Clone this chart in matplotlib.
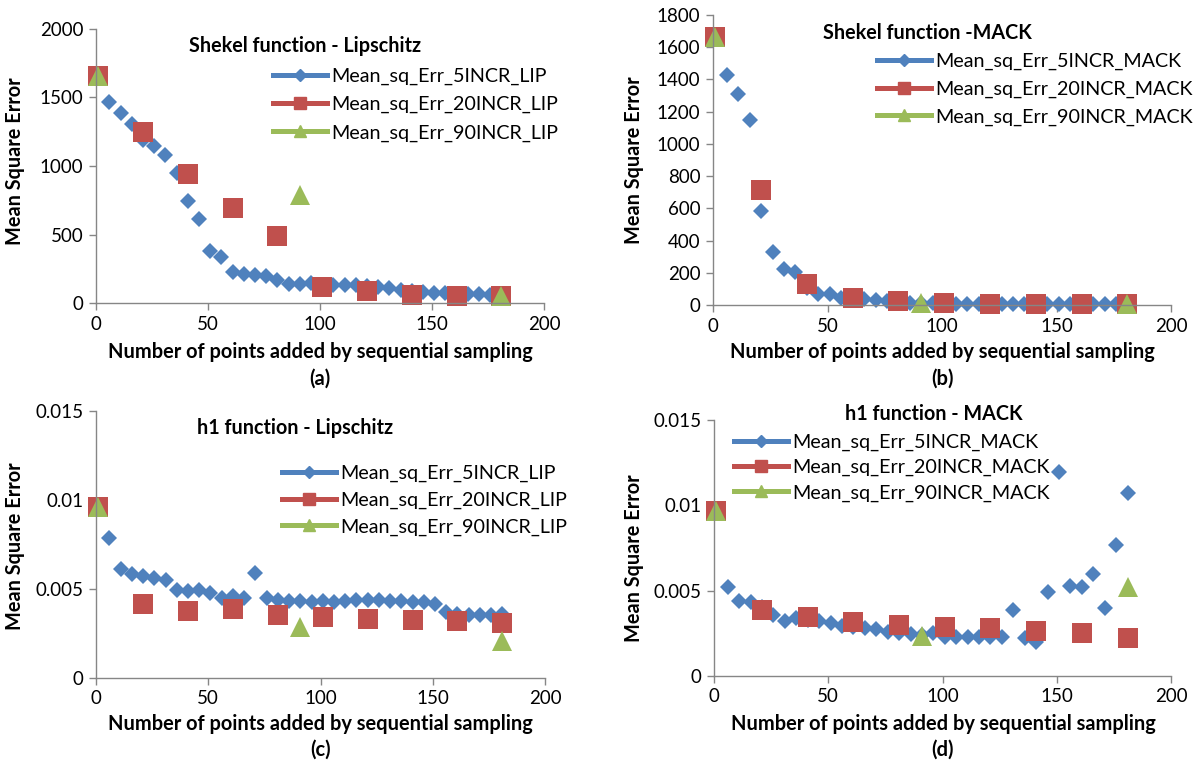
import matplotlib
matplotlib.use('Agg')
import matplotlib.pyplot as plt
from matplotlib.lines import Line2D

plt.rcParams['font.family'] = ['Lato', 'DejaVu Sans']

W, H = 1199, 760

BLUE = '#4F81BD'
RED = '#C0504D'
GREEN = '#9BBB59'
AXC = '#868686'

# x positions of the three sampling schedules
x5 = [1, 6, 11, 16, 21, 26, 31, 36, 41, 46, 51, 56, 61, 66, 71, 76, 81, 86, 91,
      96, 101, 106, 111, 116, 121, 126, 131, 136, 141, 146, 151, 156, 161, 166,
      171, 176, 181]
x20 = [1, 21, 41, 61, 81, 101, 121, 141, 161, 181]
x90 = [1, 91, 181]

# (a) Shekel - Lipschitz
a5 = [1650, 1465, 1387, 1309, 1190, 1143, 1083, 949, 742, 616, 377, 333, 224,
      214, 207, 195, 170, 141, 141, 146, 134, 134, 134, 128, 122, 117, 110, 97,
      85, 78, 73, 73, 68, 68, 63, 58, 54]
a20 = [1655, 1245, 944, 693, 487, 117, 85, 61, 54, 49]
a90 = [1655, 785, 54]

# (b) Shekel - MACK
b5 = [1660, 1425, 1312, 1151, 585, 327, 224, 204, 107, 66, 66, 45, 45, 35, 31,
      25, 22, 14, 12, 10, 9, 8, 8, 7, 7, 6, 6, 6, 5, 5, 5, 5, 4, 4, 4, 4, 4]
b20 = [1662, 715, 128, 45, 25, 10, 8, 6, 5, 4]
b90 = [1662, 12, 4]

# (c) h1 - Lipschitz
c5 = [0.0096, 0.00788, 0.00615, 0.00583, 0.00572, 0.00563, 0.00553, 0.00493,
      0.0049, 0.00497, 0.00475, 0.00452, 0.0046, 0.00447, 0.00591, 0.00452,
      0.00441, 0.00433, 0.00433, 0.00428, 0.00433, 0.00428, 0.00433, 0.00437,
      0.00437, 0.00437, 0.00433, 0.00433, 0.00428, 0.00428, 0.00415, 0.00371,
      0.00358, 0.00353, 0.00353, 0.00353, 0.00362]
c20 = [0.00962, 0.00418, 0.00375, 0.00386, 0.00356, 0.0034, 0.0033, 0.00325,
       0.0032, 0.00311]
c90 = [0.00962, 0.00287, 0.00206]

# (d) h1 - MACK
d5 = [0.0097, 0.0052, 0.00441, 0.00436, 0.00406, 0.00357, 0.00324, 0.00338,
      0.00328, 0.00324, 0.00312, 0.00293, 0.00289, 0.00279, 0.00273, 0.0026,
      0.00254, 0.00246, 0.0024, 0.0025, 0.0023, 0.0023, 0.00227, 0.00227,
      0.00227, 0.00227, 0.00387, 0.00221, 0.00201, 0.0049, 0.01197, 0.00527,
      0.0052, 0.00598, 0.00396, 0.00768, 0.01074]
d20 = [0.00969, 0.00387, 0.00344, 0.00318, 0.00299, 0.00285, 0.00279, 0.00266,
       0.0025, 0.00221]
d90 = [0.00969, 0.00234, 0.00523]

panels = [
    dict(rect=(96, 29, 544, 303), y5=a5, y20=a20, y90=a90, ymax=2000, ystep=500,
         title='Shekel function - Lipschitz', tpos=(305, 46), suffix='LIP',
         leg=(273, 76, 28), ylab=(15, 161), xlab=(320, 352), tag='(a)', tagpos=(320, 379)),
    dict(rect=(713, 15, 1171, 305), y5=b5, y20=b20, y90=b90, ymax=1800, ystep=200,
         title='Shekel function -MACK', tpos=(927, 33), suffix='MACK',
         leg=(877, 61, 27.5), ylab=(634, 160), xlab=(942, 352), tag='(b)', tagpos=(942, 379)),
    dict(rect=(96, 411, 545, 678), y5=c5, y20=c20, y90=c90, ymax=0.015, ystep=0.005,
         title='h1 function - Lipschitz', tpos=(295, 428), suffix='LIP',
         leg=(282, 473, 26.5), ylab=(15, 546), xlab=(320, 724), tag='(c)', tagpos=(321, 750)),
    dict(rect=(714, 420, 1171, 676), y5=d5, y20=d20, y90=d90, ymax=0.015, ystep=0.005,
         title='h1 function - MACK', tpos=(934, 414), suffix='MACK',
         leg=(734, 442, 25), ylab=(634, 558), xlab=(943, 724), tag='(d)', tagpos=(943, 750)),
]

fig = plt.figure(figsize=(W / 100, H / 100), dpi=100)

for p in panels:
    x0, y0, x1, y1 = p['rect']
    ax = fig.add_axes([x0 / W, 1 - y1 / H, (x1 - x0) / W, (y1 - y0) / H])
    ax.patch.set_alpha(0)
    for s in ['top', 'right']:
        ax.spines[s].set_visible(False)
    for s in ['left', 'bottom']:
        ax.spines[s].set_color(AXC)
        ax.spines[s].set_linewidth(1.0)
    ax.set_xlim(0, 200)
    ax.set_ylim(0, p['ymax'])
    ax.set_xticks([0, 50, 100, 150, 200])
    n = int(round(p['ymax'] / p['ystep']))
    yt = [round(i * p['ystep'], 6) for i in range(n + 1)]
    ax.set_yticks(yt)
    ax.set_yticklabels([f'{v:g}' for v in yt])
    ax.tick_params(direction='out', length=5, width=1, color=AXC,
                   labelsize=13.5, labelcolor='black', pad=4)

    ax.plot(x5, p['y5'], ls='none', marker='D', ms=8.3, color=BLUE, mew=0, clip_on=False)
    ax.plot(x20, p['y20'], ls='none', marker='s', ms=14, color=RED, mew=0, clip_on=False)
    ax.plot(x90, p['y90'], ls='none', marker='^', ms=14, color=GREEN, mew=0, clip_on=False)

    ax.set_ylabel('Mean Square Error', fontsize=14.3, fontweight='bold')
    ax.yaxis.set_label_coords(p['ylab'][0] / W, 1 - p['ylab'][1] / H, transform=fig.transFigure)
    ax.set_xlabel('Number of points added by sequential sampling', fontsize=14.4, fontweight='bold')
    ax.xaxis.set_label_coords(p['xlab'][0] / W, 1 - p['xlab'][1] / H, transform=fig.transFigure)
    ax.xaxis.label.set_va('center')
    ax.yaxis.label.set_va('center')

    fig.text(p['tpos'][0] / W, 1 - p['tpos'][1] / H, p['title'], fontsize=14.2,
             fontweight='bold', ha='center', va='center')
    fig.text(p['tagpos'][0] / W, 1 - p['tagpos'][1] / H, p['tag'], fontsize=14.5,
             fontweight='bold', ha='center', va='center')

    sfx = p['suffix']
    handles = [
        Line2D([], [], color=BLUE, lw=3.6, marker='D', ms=6),
        Line2D([], [], color=RED, lw=3.6, marker='s', ms=9),
        Line2D([], [], color=GREEN, lw=3.6, marker='^', ms=9),
    ]
    labels = [f'Mean_sq_Err_5INCR_{sfx}', f'Mean_sq_Err_20INCR_{sfx}',
              f'Mean_sq_Err_90INCR_{sfx}']
    lx, ly, sp = p['leg']
    fs = 14.2
    fs_px = fs * 100 / 72
    ax.legend(handles, labels, loc='upper left', frameon=False,
              bbox_to_anchor=(lx / W, 1 - (ly - 8.2) / H),
              bbox_transform=fig.transFigure, borderpad=0, borderaxespad=0,
              handlelength=54 / fs_px, handletextpad=4 / fs_px,
              labelspacing=(sp - 17) / fs_px, fontsize=fs)

fig.savefig('out.png', dpi=100)
